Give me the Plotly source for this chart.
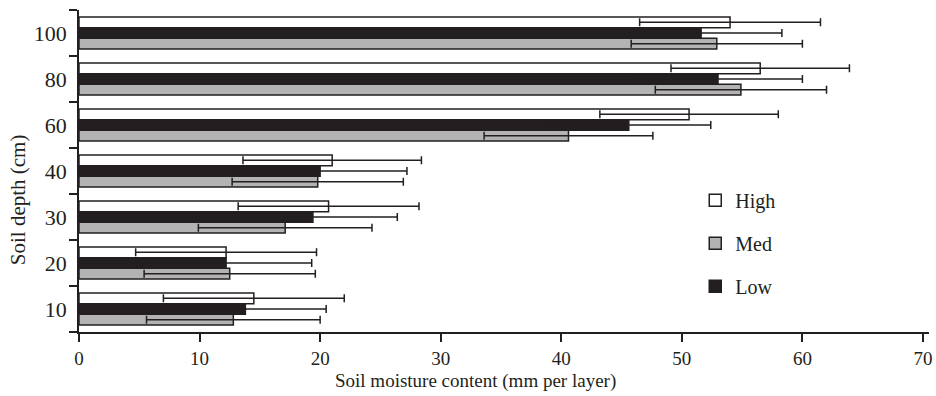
import plotly.graph_objects as go

depths = ["10", "20", "30", "40", "60", "80", "100"]
high = [14.5, 12.2, 20.7, 21.0, 50.6, 56.5, 54.0]
high_err = [7.5, 7.5, 7.5, 7.4, 7.4, 7.4, 7.5]
low = [13.8, 12.2, 19.4, 20.0, 45.6, 53.0, 51.6]
low_err = [6.7, 7.1, 7.0, 7.2, 6.8, 7.0, 6.7]
med = [12.8, 12.5, 17.1, 19.8, 40.6, 54.9, 52.9]
med_err = [7.2, 7.1, 7.2, 7.1, 7.0, 7.1, 7.1]
x_ticks = [0, 10, 20, 30, 40, 50, 60, 70]

ink = "#231f20"
FONT = "Liberation Serif"

fig = go.Figure()
series = [
    ("Med", med, med_err, "#b3b3b3", 2),
    ("Low", low, low_err, ink, 3),
    ("High", high, high_err, "#ffffff", 1),
]
for name, vals, errs, color, rank in series:
    fig.add_trace(go.Bar(
        name=name, y=depths, x=vals, orientation="h",
        marker=dict(color=color, line=dict(color=ink, width=1.5)),
        error_x=dict(type="data", array=errs, visible=True, color=ink,
                     thickness=1.5, width=4),
        legendrank=rank, legendgroup=name,
    ))

fig.update_layout(
    width=936, height=396,
    margin=dict(l=79, r=4, t=10, b=64),
    paper_bgcolor="white", plot_bgcolor="white",
    barmode="group", bargap=0.3, bargroupgap=0,
    font=dict(family=FONT, color=ink, size=19),
    showlegend=True,
    legend=dict(x=0.725, y=0.47, xanchor="left", yanchor="top",
                font=dict(family=FONT, size=20, color=ink),
                tracegroupgap=14, bgcolor="rgba(0,0,0,0)"),
    xaxis=dict(range=[0, 70.5], tickvals=x_ticks, ticktext=[str(v) for v in x_ticks],
               showline=True, linecolor=ink, linewidth=1.5,
               ticks="outside", ticklen=8, tickwidth=1.5, tickcolor=ink,
               showgrid=False, zeroline=False,
               tickfont=dict(family=FONT, size=19, color=ink)),
    yaxis=dict(type="category", categoryorder="array", categoryarray=depths,
               range=[-0.5, 6.5],
               showline=True, linecolor=ink, linewidth=1.5,
               ticks="outside", tickson="boundaries", ticklen=8, tickwidth=1.5,
               tickcolor=ink, showgrid=False, zeroline=False,
               ticklabelstandoff=6,
               tickfont=dict(family=FONT, size=22, color=ink)),
    annotations=[
        dict(text="Soil moisture content (mm per layer)", xref="paper", yref="paper",
             x=0.466, y=-0.152, xanchor="center", yanchor="middle", showarrow=False,
             font=dict(family=FONT, size=19, color=ink)),
        dict(text="Soil depth (cm)", xref="paper", yref="paper", textangle=-90,
             x=-0.0715, y=0.41, xanchor="center", yanchor="middle", showarrow=False,
             font=dict(family=FONT, size=21, color=ink)),
    ],
)

fig.write_html("out.html", config={"displayModeBar": False},
               post_script="document.body.style.margin='0';")
